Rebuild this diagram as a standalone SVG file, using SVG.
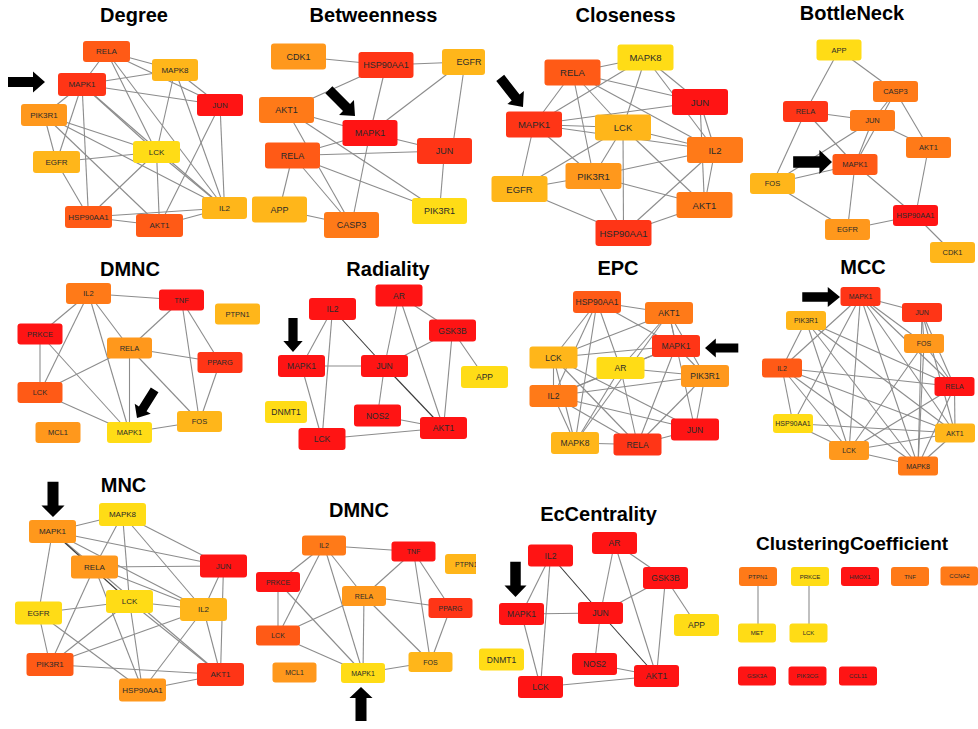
<svg xmlns="http://www.w3.org/2000/svg" xmlns:xlink="http://www.w3.org/1999/xlink" width="978" height="729" viewBox="0 0 978 729">
<style>
.ttl{font-family:"Liberation Sans",Arial,sans-serif;font-weight:bold;font-size:20px;text-anchor:middle;fill:#000}
.nodes text{font-family:"Liberation Sans",Arial,sans-serif;text-anchor:middle;dominant-baseline:central;fill:#2a2a2a}
.nodes rect{rx:3px;ry:3px}
.edges line{stroke:#8c8c8c;stroke-width:1.1}
.edges line.dk{stroke:#3a3a3a}
.r1{fill:#ff1414}.r2{fill:#ff3516}.r3{fill:#ff5a16}.r4{fill:#ff7a18}.r5{fill:#ff981c}.r6{fill:#ffb61a}.r7{fill:#ffdc16}
</style>
<defs>
<polygon id="arw" points="-37,-5 -12,-5 -12,-10.5 0,0 -12,10.5 -12,5 -37,5" fill="#000"/>
<clipPath id="clipP"><rect x="440" y="540" width="36" height="40"/></clipPath>
</defs>
<rect width="978" height="729" fill="#fff"/>

<g id="titles">
<text class="ttl" x="134" y="22">Degree</text>
<text class="ttl" x="373.5" y="22">Betweenness</text>
<text class="ttl" x="625.5" y="22">Closeness</text>
<text class="ttl" x="852" y="20">BottleNeck</text>
<text class="ttl" x="130" y="276">DMNC</text>
<text class="ttl" x="388" y="276">Radiality</text>
<text class="ttl" x="618" y="275">EPC</text>
<text class="ttl" x="863" y="274">MCC</text>
<text class="ttl" x="123.5" y="492">MNC</text>
<text class="ttl" x="359" y="517">DMNC</text>
<text class="ttl" x="598.5" y="521">EcCentrality</text>
<text class="ttl" x="852" y="550" style="font-size:19px">ClusteringCoefficient</text>
</g>

<g id="connectors" class="edges">
<!-- Degree -->
<line x1="106.5" y1="51.5" x2="82" y2="84.5"/><line x1="106.5" y1="51.5" x2="175" y2="70"/><line x1="106.5" y1="51.5" x2="220" y2="105"/><line x1="106.5" y1="51.5" x2="156.5" y2="152"/><line x1="106.5" y1="51.5" x2="224.5" y2="208"/>
<line x1="175" y1="70" x2="82" y2="84.5"/><line x1="175" y1="70" x2="220" y2="105"/><line x1="175" y1="70" x2="156.5" y2="152"/><line x1="175" y1="70" x2="224.5" y2="208"/>
<line x1="82" y1="84.5" x2="220" y2="105"/><line x1="82" y1="84.5" x2="44" y2="115"/><line x1="82" y1="84.5" x2="56.5" y2="162"/><line x1="82" y1="84.5" x2="88.5" y2="217"/><line x1="82" y1="84.5" x2="156.5" y2="152"/><line x1="82" y1="84.5" x2="224.5" y2="208"/>
<line x1="44" y1="115" x2="56.5" y2="162"/><line x1="44" y1="115" x2="156.5" y2="152"/><line x1="44" y1="115" x2="224.5" y2="208"/><line x1="44" y1="115" x2="159.5" y2="225.5"/>
<line x1="220" y1="105" x2="159.5" y2="225.5"/><line x1="220" y1="105" x2="224.5" y2="208"/>
<line x1="56.5" y1="162" x2="156.5" y2="152"/><line x1="56.5" y1="162" x2="88.5" y2="217"/>
<line x1="156.5" y1="152" x2="88.5" y2="217"/><line x1="156.5" y1="152" x2="159.5" y2="225.5"/><line x1="156.5" y1="152" x2="224.5" y2="208"/>
<line x1="88.5" y1="217" x2="159.5" y2="225.5"/><line x1="88.5" y1="217" x2="224.5" y2="208"/><line x1="159.5" y1="225.5" x2="224.5" y2="208"/>
<!-- Betweenness -->
<line x1="298.5" y1="56.5" x2="386" y2="65"/><line x1="386" y1="65" x2="463" y2="62"/><line x1="386" y1="65" x2="286.5" y2="110"/><line x1="386" y1="65" x2="370" y2="133"/>
<line x1="463" y1="62" x2="370" y2="133"/><line x1="465" y1="62" x2="452" y2="151"/>
<line x1="286.5" y1="110" x2="370" y2="133"/><line x1="286.5" y1="110" x2="351.5" y2="225"/><line x1="286.5" y1="110" x2="439.5" y2="211"/>
<line x1="370" y1="133" x2="292.5" y2="155.5"/><line x1="370" y1="133" x2="444.5" y2="151"/><line x1="370" y1="133" x2="351.5" y2="225"/>
<line x1="292.5" y1="155.5" x2="444.5" y2="151"/><line x1="292.5" y1="155.5" x2="439.5" y2="211"/><line x1="292.5" y1="155.5" x2="279.5" y2="209.5"/><line x1="292.5" y1="155.5" x2="351.5" y2="225"/>
<line x1="279.5" y1="209.5" x2="351.5" y2="225"/><line x1="444.5" y1="151" x2="439.5" y2="211"/>
<!-- Closeness -->
<line x1="645.5" y1="57.5" x2="572.5" y2="72.5"/><line x1="645.5" y1="57.5" x2="700" y2="102"/><line x1="645.5" y1="57.5" x2="623" y2="127.5"/><line x1="645.5" y1="57.5" x2="715" y2="150"/><line x1="645.5" y1="57.5" x2="534" y2="124.5"/>
<line x1="572.5" y1="72.5" x2="534" y2="124.5"/><line x1="572.5" y1="72.5" x2="700" y2="102"/><line x1="572.5" y1="72.5" x2="623" y2="127.5"/><line x1="572.5" y1="72.5" x2="593.5" y2="176"/><line x1="572.5" y1="72.5" x2="715" y2="150"/>
<line x1="700" y1="102" x2="534" y2="124.5"/><line x1="700" y1="102" x2="715" y2="150"/><line x1="700" y1="102" x2="704.5" y2="205"/>
<line x1="534" y1="124.5" x2="623" y2="127.5"/><line x1="534" y1="124.5" x2="715" y2="150"/><line x1="534" y1="124.5" x2="593.5" y2="176"/><line x1="534" y1="124.5" x2="519.5" y2="189"/>
<line x1="623" y1="127.5" x2="519.5" y2="189"/><line x1="623" y1="127.5" x2="593.5" y2="176"/><line x1="623" y1="127.5" x2="623.5" y2="233"/><line x1="623" y1="127.5" x2="704.5" y2="205"/><line x1="623" y1="127.5" x2="715" y2="150"/>
<line x1="715" y1="150" x2="593.5" y2="176"/><line x1="715" y1="150" x2="623.5" y2="233"/><line x1="715" y1="150" x2="704.5" y2="205"/>
<line x1="593.5" y1="176" x2="519.5" y2="189"/><line x1="593.5" y1="176" x2="623.5" y2="233"/><line x1="593.5" y1="176" x2="704.5" y2="205"/>
<line x1="519.5" y1="189" x2="623.5" y2="233"/><line x1="704.5" y1="205" x2="623.5" y2="233"/>
<!-- BottleNeck -->
<line x1="839" y1="50" x2="805.5" y2="111.5"/><line x1="839" y1="50" x2="895.5" y2="91.5"/>
<line x1="895.5" y1="91.5" x2="872.5" y2="120.5"/><line x1="895.5" y1="91.5" x2="928.5" y2="147.5"/><line x1="895.5" y1="91.5" x2="855" y2="164.5"/>
<line x1="805.5" y1="111.5" x2="872.5" y2="120.5"/><line x1="805.5" y1="111.5" x2="855" y2="164.5"/><line x1="805.5" y1="111.5" x2="772.5" y2="183.5"/>
<line x1="872.5" y1="120.5" x2="928.5" y2="147.5"/><line x1="872.5" y1="120.5" x2="772.5" y2="183.5"/><line x1="872.5" y1="120.5" x2="855" y2="164.5"/>
<line x1="855" y1="164.5" x2="772.5" y2="183.5"/><line x1="855" y1="164.5" x2="847.5" y2="229.5"/><line x1="855" y1="164.5" x2="915.5" y2="215.5"/>
<line x1="928.5" y1="147.5" x2="915.5" y2="215.5"/><line x1="772.5" y1="183.5" x2="847.5" y2="229.5"/><line x1="847.5" y1="229.5" x2="915.5" y2="215.5"/><line x1="915.5" y1="215.5" x2="952.5" y2="252.5"/>
<!-- DMNC -->
<line x1="88.5" y1="293.5" x2="181.5" y2="300"/><line x1="88.5" y1="293.5" x2="40" y2="334"/><line x1="88.5" y1="293.5" x2="40" y2="392.5"/><line x1="88.5" y1="293.5" x2="129.5" y2="348"/><line x1="88.5" y1="293.5" x2="129.5" y2="432.5"/>
<line x1="181.5" y1="300" x2="129.5" y2="348"/><line x1="181.5" y1="300" x2="220" y2="362.5"/><line x1="181.5" y1="300" x2="199.5" y2="421.5"/>
<line x1="40" y1="334" x2="40" y2="392.5"/><line x1="40" y1="334" x2="129.5" y2="432.5"/>
<line x1="129.5" y1="348" x2="40" y2="392.5"/><line x1="129.5" y1="348" x2="220" y2="362.5"/><line x1="129.5" y1="348" x2="129.5" y2="432.5"/><line x1="129.5" y1="348" x2="199.5" y2="421.5"/>
<line x1="220" y1="362.5" x2="199.5" y2="421.5"/><line x1="40" y1="392.5" x2="129.5" y2="432.5"/><line x1="199.5" y1="421.5" x2="129.5" y2="432.5"/>
<!-- Radiality -->
<line x1="399" y1="295.5" x2="384.5" y2="366"/><line x1="399" y1="295.5" x2="443.5" y2="428"/><line x1="399" y1="295.5" x2="452.5" y2="330.5"/>
<line x1="332.5" y1="309" x2="301.5" y2="366"/><line x1="332.5" y1="309" x2="322" y2="439"/><line class="dk" x1="332.5" y1="309" x2="384.5" y2="366"/>
<line x1="452.5" y1="330.5" x2="384.5" y2="366"/><line x1="452.5" y1="330.5" x2="443.5" y2="428"/><line x1="452.5" y1="330.5" x2="484.5" y2="377"/>
<line x1="301.5" y1="366" x2="384.5" y2="366"/><line x1="301.5" y1="366" x2="322" y2="439"/>
<line x1="384.5" y1="366" x2="377.5" y2="415.5"/><line class="dk" x1="384.5" y1="366" x2="443.5" y2="428"/>
<line x1="377.5" y1="415.5" x2="443.5" y2="428"/><line x1="322" y1="439" x2="443.5" y2="428"/>
<!-- EPC -->
<line x1="597" y1="302" x2="669" y2="313"/><line x1="597" y1="302" x2="553.5" y2="357.5"/><line x1="597" y1="302" x2="553.5" y2="396"/><line x1="597" y1="302" x2="620.5" y2="368"/><line x1="597" y1="302" x2="676" y2="346"/><line x1="597" y1="302" x2="575" y2="443"/>
<line x1="669" y1="313" x2="676" y2="346"/><line x1="669" y1="313" x2="553.5" y2="357.5"/><line x1="669" y1="313" x2="620.5" y2="368"/><line x1="669" y1="313" x2="705" y2="376"/><line x1="669" y1="313" x2="695" y2="429.5"/><line x1="669" y1="313" x2="575" y2="443"/>
<line x1="676" y1="346" x2="553.5" y2="357.5"/><line x1="676" y1="346" x2="620.5" y2="368"/><line x1="676" y1="346" x2="705" y2="376"/><line x1="676" y1="346" x2="637.5" y2="444.5"/><line x1="676" y1="346" x2="553.5" y2="396"/>
<line x1="553.5" y1="357.5" x2="553.5" y2="396"/><line x1="553.5" y1="357.5" x2="575" y2="443"/><line x1="553.5" y1="357.5" x2="637.5" y2="444.5"/><line x1="553.5" y1="357.5" x2="695" y2="429.5"/>
<line x1="620.5" y1="368" x2="705" y2="376"/><line x1="620.5" y1="368" x2="553.5" y2="396"/><line x1="620.5" y1="368" x2="575" y2="443"/><line x1="620.5" y1="368" x2="637.5" y2="444.5"/>
<line x1="705" y1="376" x2="553.5" y2="396"/><line x1="705" y1="376" x2="637.5" y2="444.5"/><line x1="705" y1="376" x2="695" y2="429.5"/>
<line x1="553.5" y1="396" x2="575" y2="443"/><line x1="553.5" y1="396" x2="637.5" y2="444.5"/><line x1="553.5" y1="396" x2="695" y2="429.5"/>
<line x1="575" y1="443" x2="637.5" y2="444.5"/><line x1="637.5" y1="444.5" x2="695" y2="429.5"/>
<!-- MCC -->
<line x1="860.5" y1="296.5" x2="922" y2="312.5"/><line x1="860.5" y1="296.5" x2="924" y2="343.5"/><line x1="860.5" y1="296.5" x2="954.5" y2="386.5"/><line x1="860.5" y1="296.5" x2="955" y2="433"/><line x1="860.5" y1="296.5" x2="782" y2="368"/><line x1="860.5" y1="296.5" x2="793" y2="423.5"/><line x1="860.5" y1="296.5" x2="849" y2="450.5"/><line x1="860.5" y1="296.5" x2="918" y2="466"/>
<line x1="922" y1="312.5" x2="924" y2="343.5"/><line x1="922" y1="312.5" x2="954.5" y2="386.5"/><line x1="922" y1="312.5" x2="918" y2="466"/><line x1="922" y1="312.5" x2="955" y2="433"/>
<line x1="806" y1="320.5" x2="782" y2="368"/><line x1="806" y1="320.5" x2="954.5" y2="386.5"/><line x1="806" y1="320.5" x2="849" y2="450.5"/><line x1="806" y1="320.5" x2="918" y2="466"/><line x1="806" y1="320.5" x2="955" y2="433"/>
<line x1="924" y1="343.5" x2="954.5" y2="386.5"/><line x1="924" y1="343.5" x2="918" y2="466"/><line x1="924" y1="343.5" x2="849" y2="450.5"/>
<line x1="782" y1="368" x2="954.5" y2="386.5"/><line x1="782" y1="368" x2="955" y2="433"/><line x1="782" y1="368" x2="849" y2="450.5"/><line x1="782" y1="368" x2="918" y2="466"/><line x1="782" y1="368" x2="793" y2="423.5"/>
<line x1="954.5" y1="386.5" x2="849" y2="450.5"/><line x1="954.5" y1="386.5" x2="955" y2="433"/><line x1="954.5" y1="386.5" x2="918" y2="466"/>
<line x1="793" y1="423.5" x2="955" y2="433"/><line x1="793" y1="423.5" x2="849" y2="450.5"/><line x1="849" y1="450.5" x2="955" y2="433"/><line x1="849" y1="450.5" x2="918" y2="466"/><line x1="955" y1="433" x2="918" y2="466"/>
<!-- MNC -->
<line x1="122.5" y1="514.5" x2="52.5" y2="531.5"/><line x1="122.5" y1="514.5" x2="94.5" y2="567"/><line x1="122.5" y1="514.5" x2="129.5" y2="601.5"/><line x1="122.5" y1="514.5" x2="203.5" y2="609.5"/><line x1="122.5" y1="514.5" x2="223.5" y2="566"/>
<line x1="52.5" y1="531.5" x2="223.5" y2="566"/><line x1="52.5" y1="531.5" x2="94.5" y2="567"/><line class="dk" x1="52.5" y1="531.5" x2="129.5" y2="601.5"/><line x1="52.5" y1="531.5" x2="203.5" y2="609.5"/><line x1="52.5" y1="531.5" x2="38.5" y2="613"/>
<line x1="94.5" y1="567" x2="223.5" y2="566"/><line x1="94.5" y1="567" x2="203.5" y2="609.5"/><line x1="94.5" y1="567" x2="220.5" y2="674.5"/><line x1="94.5" y1="567" x2="50" y2="664.5"/><line x1="94.5" y1="567" x2="142.5" y2="690"/>
<line x1="129.5" y1="601.5" x2="38.5" y2="613"/><line x1="129.5" y1="601.5" x2="203.5" y2="609.5"/><line x1="129.5" y1="601.5" x2="50" y2="664.5"/><line x1="129.5" y1="601.5" x2="142.5" y2="690"/><line x1="129.5" y1="601.5" x2="220.5" y2="674.5"/>
<line x1="203.5" y1="609.5" x2="223.5" y2="566"/><line x1="203.5" y1="609.5" x2="220.5" y2="674.5"/><line x1="203.5" y1="609.5" x2="50" y2="664.5"/><line x1="203.5" y1="609.5" x2="142.5" y2="690"/>
<line x1="223.5" y1="566" x2="220.5" y2="674.5"/><line x1="38.5" y1="613" x2="50" y2="664.5"/><line x1="38.5" y1="613" x2="142.5" y2="690"/><line x1="50" y1="664.5" x2="220.5" y2="674.5"/><line x1="220.5" y1="674.5" x2="142.5" y2="690"/>
<!-- DMNC (2) -->
<line x1="324" y1="545.5" x2="413.5" y2="551.5"/><line x1="324" y1="545.5" x2="278" y2="582"/><line x1="324" y1="545.5" x2="278" y2="635.5"/><line x1="324" y1="545.5" x2="364" y2="596"/><line x1="324" y1="545.5" x2="363" y2="673"/>
<line x1="413.5" y1="551.5" x2="364" y2="596"/><line x1="413.5" y1="551.5" x2="450.5" y2="608"/><line x1="413.5" y1="551.5" x2="430.5" y2="662"/>
<line x1="278" y1="582" x2="278" y2="635.5"/><line x1="278" y1="582" x2="363" y2="673"/>
<line x1="364" y1="596" x2="278" y2="635.5"/><line x1="364" y1="596" x2="450.5" y2="608"/><line x1="364" y1="596" x2="363" y2="673"/><line x1="364" y1="596" x2="430.5" y2="662"/>
<line x1="450.5" y1="608" x2="430.5" y2="662"/><line x1="278" y1="635.5" x2="363" y2="673"/><line x1="430.5" y1="662" x2="363" y2="673"/>
<!-- EcCentrality -->
<line x1="614.5" y1="543" x2="600.5" y2="613"/><line x1="614.5" y1="543" x2="656.5" y2="676"/><line x1="614.5" y1="543" x2="665.5" y2="578"/>
<line x1="550.5" y1="555.5" x2="521.5" y2="614"/><line x1="550.5" y1="555.5" x2="540.5" y2="687"/><line class="dk" x1="550.5" y1="555.5" x2="600.5" y2="613"/>
<line x1="665.5" y1="578" x2="600.5" y2="613"/><line x1="665.5" y1="578" x2="656.5" y2="676"/><line x1="665.5" y1="578" x2="696.5" y2="625"/>
<line x1="521.5" y1="614" x2="600.5" y2="613"/><line x1="521.5" y1="614" x2="540.5" y2="687"/>
<line x1="600.5" y1="613" x2="594.5" y2="664"/><line class="dk" x1="600.5" y1="613" x2="656.5" y2="676"/>
<line x1="594.5" y1="664" x2="656.5" y2="676"/><line x1="540.5" y1="687" x2="656.5" y2="676"/>
<!-- ClusteringCoefficient -->
<line x1="758" y1="586" x2="758" y2="624"/><line x1="809" y1="586" x2="809" y2="624"/>
</g>

<g id="panel-degree" class="nodes" font-size="8">
<g id="deg-RELA"><rect class="r3" x="83" y="41" width="47" height="21"/><text x="106.5" y="51.5">RELA</text></g>
<g id="deg-MAPK8"><rect class="r6" x="152" y="59" width="46" height="22"/><text x="175" y="70">MAPK8</text></g>
<g id="deg-MAPK1"><rect class="r2" x="58" y="73" width="48" height="23"/><text x="82" y="84.5">MAPK1</text></g>
<g id="deg-JUN"><rect class="r1" x="197" y="94" width="46" height="22"/><text x="220" y="105">JUN</text></g>
<g id="deg-PIK3R1"><rect class="r5" x="21" y="104" width="46" height="22"/><text x="44" y="115">PIK3R1</text></g>
<g id="deg-LCK"><rect class="r7" x="133" y="141" width="47" height="22"/><text x="156.5" y="152">LCK</text></g>
<g id="deg-EGFR"><rect class="r6" x="33" y="151" width="47" height="22"/><text x="56.5" y="162">EGFR</text></g>
<g id="deg-IL2"><rect class="r6" x="202" y="197" width="45" height="22"/><text x="224.5" y="208">IL2</text></g>
<g id="deg-HSP90AA1"><rect class="r3" x="65" y="206" width="47" height="22"/><text x="88.5" y="217">HSP90AA1</text></g>
<g id="deg-AKT1"><rect class="r3" x="136" y="214" width="47" height="23"/><text x="159.5" y="225.5">AKT1</text></g>
</g>

<g id="panel-betweenness" class="nodes" font-size="9">
<g id="bet-CDK1"><rect class="r5" x="271" y="43.5" width="55" height="26"/><text x="298.5" y="56.5">CDK1</text></g>
<g id="bet-HSP90AA1"><rect class="r2" x="358.5" y="52" width="55" height="26"/><text x="386" y="65">HSP90AA1</text></g>
<g id="bet-EGFR"><rect class="r6" x="442" y="49" width="43" height="26"/><text x="469" y="62">EGFR</text></g>
<g id="bet-AKT1"><rect class="r4" x="259" y="97" width="55" height="26"/><text x="286.5" y="110">AKT1</text></g>
<g id="bet-MAPK1"><rect class="r1" x="342.5" y="120" width="55" height="26"/><text x="370" y="133">MAPK1</text></g>
<g id="bet-RELA"><rect class="r3" x="265" y="142.5" width="55" height="26"/><text x="292.5" y="155.5">RELA</text></g>
<g id="bet-JUN"><rect class="r2" x="417" y="138" width="55" height="26"/><text x="444.5" y="151">JUN</text></g>
<g id="bet-APP"><rect class="r6" x="252" y="196.5" width="55" height="26"/><text x="279.5" y="209.5">APP</text></g>
<g id="bet-CASP3"><rect class="r4" x="324" y="212" width="55" height="26"/><text x="351.5" y="225">CASP3</text></g>
<g id="bet-PIK3R1"><rect class="r7" x="412" y="198" width="55" height="26"/><text x="439.5" y="211">PIK3R1</text></g>
</g>

<g id="panel-closeness" class="nodes" font-size="9.5">
<g id="clo-MAPK8"><rect class="r7" x="617.5" y="44.5" width="56" height="26"/><text x="645.5" y="57.5">MAPK8</text></g>
<g id="clo-RELA"><rect class="r3" x="544.5" y="59.5" width="56" height="26"/><text x="572.5" y="72.5">RELA</text></g>
<g id="clo-JUN"><rect class="r1" x="672" y="89" width="56" height="26"/><text x="700" y="102">JUN</text></g>
<g id="clo-MAPK1"><rect class="r2" x="506" y="111.5" width="56" height="26"/><text x="534" y="124.5">MAPK1</text></g>
<g id="clo-LCK"><rect class="r6" x="595" y="114.5" width="56" height="26"/><text x="623" y="127.5">LCK</text></g>
<g id="clo-IL2"><rect class="r4" x="687" y="137" width="56" height="26"/><text x="715" y="150">IL2</text></g>
<g id="clo-PIK3R1"><rect class="r5" x="565.5" y="163" width="56" height="26"/><text x="593.5" y="176">PIK3R1</text></g>
<g id="clo-EGFR"><rect class="r6" x="491.5" y="176" width="56" height="26"/><text x="519.5" y="189">EGFR</text></g>
<g id="clo-AKT1"><rect class="r4" x="676.5" y="192" width="56" height="26"/><text x="704.5" y="205">AKT1</text></g>
<g id="clo-HSP90AA1"><rect class="r2" x="595.5" y="220" width="56" height="26"/><text x="623.5" y="233">HSP90AA1</text></g>
</g>

<g id="panel-bottleneck" class="nodes" font-size="7.5">
<g id="bot-APP"><rect class="r7" x="816.5" y="39.5" width="45" height="21"/><text x="839" y="50">APP</text></g>
<g id="bot-CASP3"><rect class="r4" x="873" y="81" width="45" height="21"/><text x="895.5" y="91.5">CASP3</text></g>
<g id="bot-RELA"><rect class="r2" x="783" y="101" width="45" height="21"/><text x="805.5" y="111.5">RELA</text></g>
<g id="bot-JUN"><rect class="r4" x="850" y="110" width="45" height="21"/><text x="872.5" y="120.5">JUN</text></g>
<g id="bot-AKT1"><rect class="r4" x="906" y="137" width="45" height="21"/><text x="928.5" y="147.5">AKT1</text></g>
<g id="bot-MAPK1"><rect class="r3" x="832.5" y="154" width="45" height="21"/><text x="855" y="164.5">MAPK1</text></g>
<g id="bot-FOS"><rect class="r6" x="750" y="173" width="45" height="21"/><text x="772.5" y="183.5">FOS</text></g>
<g id="bot-HSP90AA1"><rect class="r1" x="893" y="205" width="45" height="21"/><text x="915.5" y="215.5">HSP90AA1</text></g>
<g id="bot-EGFR"><rect class="r5" x="825" y="219" width="45" height="21"/><text x="847.5" y="229.5">EGFR</text></g>
<g id="bot-CDK1"><rect class="r6" x="930" y="242" width="45" height="21"/><text x="952.5" y="252.5">CDK1</text></g>
</g>

<g id="panel-dmnc" class="nodes" font-size="7.5">
<g id="dm1-IL2"><rect class="r4" x="66" y="283" width="45" height="21"/><text x="88.5" y="293.5">IL2</text></g>
<g id="dm1-TNF"><rect class="r1" x="159" y="289.5" width="45" height="21"/><text x="181.5" y="300">TNF</text></g>
<g id="dm1-PTPN1"><rect class="r6" x="215" y="303.5" width="45" height="21"/><text x="237.5" y="314">PTPN1</text></g>
<g id="dm1-PRKCE"><rect class="r1" x="17.5" y="323.5" width="45" height="21"/><text x="40" y="334">PRKCE</text></g>
<g id="dm1-RELA"><rect class="r5" x="107" y="337.5" width="45" height="21"/><text x="129.5" y="348">RELA</text></g>
<g id="dm1-PPARG"><rect class="r2" x="197.5" y="352" width="45" height="21"/><text x="220" y="362.5">PPARG</text></g>
<g id="dm1-LCK"><rect class="r3" x="17.5" y="382" width="45" height="21"/><text x="40" y="392.5">LCK</text></g>
<g id="dm1-FOS"><rect class="r6" x="177" y="411" width="45" height="21"/><text x="199.5" y="421.5">FOS</text></g>
<g id="dm1-MCL1"><rect class="r5" x="35.5" y="422" width="45" height="21"/><text x="58" y="432.5">MCL1</text></g>
<g id="dm1-MAPK1"><rect class="r7" x="107" y="422" width="45" height="21"/><text x="129.5" y="432.5">MAPK1</text></g>
</g>

<g id="panel-radiality" class="nodes" font-size="8.5">
<g id="rad-AR"><rect class="r1" x="375.5" y="284.5" width="47" height="22"/><text x="399" y="295.5">AR</text></g>
<g id="rad-IL2"><rect class="r1" x="309" y="298" width="47" height="22"/><text x="332.5" y="309">IL2</text></g>
<g id="rad-GSK3B"><rect class="r1" x="429" y="319.5" width="47" height="22"/><text x="452.5" y="330.5">GSK3B</text></g>
<g id="rad-MAPK1"><rect class="r1" x="278" y="355" width="47" height="22"/><text x="301.5" y="366">MAPK1</text></g>
<g id="rad-JUN"><rect class="r1" x="361" y="355" width="47" height="22"/><text x="384.5" y="366">JUN</text></g>
<g id="rad-APP"><rect class="r7" x="461" y="366" width="47" height="22"/><text x="484.5" y="377">APP</text></g>
<g id="rad-DNMT1"><rect class="r7" x="265" y="401" width="42" height="22"/><text x="286" y="412">DNMT1</text></g>
<g id="rad-NOS2"><rect class="r1" x="354" y="404.5" width="47" height="22"/><text x="377.5" y="415.5">NOS2</text></g>
<g id="rad-AKT1"><rect class="r1" x="420" y="417" width="47" height="22"/><text x="443.5" y="428">AKT1</text></g>
<g id="rad-LCK"><rect class="r1" x="298.5" y="428" width="47" height="22"/><text x="322" y="439">LCK</text></g>
</g>

<g id="panel-epc" class="nodes" font-size="8.5">
<g id="epc-HSP90AA1"><rect class="r3" x="573" y="291" width="48" height="22"/><text x="597" y="302">HSP90AA1</text></g>
<g id="epc-AKT1"><rect class="r4" x="645" y="302" width="48" height="22"/><text x="669" y="313">AKT1</text></g>
<g id="epc-MAPK1"><rect class="r2" x="652" y="335" width="48" height="22"/><text x="676" y="346">MAPK1</text></g>
<g id="epc-LCK"><rect class="r6" x="529.5" y="346.5" width="48" height="22"/><text x="553.5" y="357.5">LCK</text></g>
<g id="epc-AR"><rect class="r7" x="596.5" y="357" width="48" height="22"/><text x="620.5" y="368">AR</text></g>
<g id="epc-PIK3R1"><rect class="r5" x="681" y="365" width="48" height="22"/><text x="705" y="376">PIK3R1</text></g>
<g id="epc-IL2"><rect class="r4" x="529.5" y="385" width="48" height="22"/><text x="553.5" y="396">IL2</text></g>
<g id="epc-JUN"><rect class="r1" x="671" y="418.5" width="48" height="22"/><text x="695" y="429.5">JUN</text></g>
<g id="epc-MAPK8"><rect class="r6" x="551" y="432" width="48" height="22"/><text x="575" y="443">MAPK8</text></g>
<g id="epc-RELA"><rect class="r2" x="613.5" y="433.5" width="48" height="22"/><text x="637.5" y="444.5">RELA</text></g>
</g>

<g id="panel-mcc" class="nodes" font-size="7">
<g id="mcc-MAPK1"><rect class="r2" x="840.5" y="287" width="40" height="19"/><text x="860.5" y="296.5">MAPK1</text></g>
<g id="mcc-JUN"><rect class="r2" x="902" y="303" width="40" height="19"/><text x="922" y="312.5">JUN</text></g>
<g id="mcc-PIK3R1"><rect class="r6" x="786" y="311" width="40" height="19"/><text x="806" y="320.5">PIK3R1</text></g>
<g id="mcc-FOS"><rect class="r5" x="904" y="334" width="40" height="19"/><text x="924" y="343.5">FOS</text></g>
<g id="mcc-IL2"><rect class="r3" x="762" y="358.5" width="40" height="19"/><text x="782" y="368">IL2</text></g>
<g id="mcc-RELA"><rect class="r1" x="934.5" y="377" width="40" height="19"/><text x="954.5" y="386.5">RELA</text></g>
<g id="mcc-HSP90AA1"><rect class="r7" x="773" y="414" width="40" height="19"/><text x="793" y="423.5">HSP90AA1</text></g>
<g id="mcc-AKT1"><rect class="r6" x="935" y="423.5" width="40" height="19"/><text x="955" y="433">AKT1</text></g>
<g id="mcc-LCK"><rect class="r5" x="829" y="441" width="40" height="19"/><text x="849" y="450.5">LCK</text></g>
<g id="mcc-MAPK8"><rect class="r4" x="898" y="456.5" width="40" height="19"/><text x="918" y="466">MAPK8</text></g>
</g>

<g id="panel-mnc" class="nodes" font-size="8">
<g id="mnc-MAPK8"><rect class="r7" x="99" y="503" width="47" height="23"/><text x="122.5" y="514.5">MAPK8</text></g>
<g id="mnc-MAPK1"><rect class="r5" x="29" y="520" width="47" height="23"/><text x="52.5" y="531.5">MAPK1</text></g>
<g id="mnc-JUN"><rect class="r1" x="200" y="554.5" width="47" height="23"/><text x="223.5" y="566">JUN</text></g>
<g id="mnc-RELA"><rect class="r5" x="71" y="555.5" width="47" height="23"/><text x="94.5" y="567">RELA</text></g>
<g id="mnc-LCK"><rect class="r7" x="106" y="590" width="47" height="23"/><text x="129.5" y="601.5">LCK</text></g>
<g id="mnc-IL2"><rect class="r6" x="180" y="598" width="47" height="23"/><text x="203.5" y="609.5">IL2</text></g>
<g id="mnc-EGFR"><rect class="r7" x="15" y="601.5" width="47" height="23"/><text x="38.5" y="613">EGFR</text></g>
<g id="mnc-PIK3R1"><rect class="r3" x="26.5" y="653" width="47" height="23"/><text x="50" y="664.5">PIK3R1</text></g>
<g id="mnc-AKT1"><rect class="r2" x="197" y="663" width="47" height="23"/><text x="220.5" y="674.5">AKT1</text></g>
<g id="mnc-HSP90AA1"><rect class="r5" x="119" y="678.5" width="47" height="23"/><text x="142.5" y="690">HSP90AA1</text></g>
</g>

<g id="panel-dmnc2" class="nodes" font-size="7">
<g id="dm2-IL2"><rect class="r4" x="302" y="535.5" width="44" height="20"/><text x="324" y="545.5">IL2</text></g>
<g id="dm2-TNF"><rect class="r1" x="391.5" y="541.5" width="44" height="20"/><text x="413.5" y="551.5">TNF</text></g>
<g id="dm2-PTPN1" clip-path="url(#clipP)"><rect class="r6" x="445" y="554" width="44" height="20"/><text x="455" y="564" style="text-anchor:start">PTPN1</text></g>
<g id="dm2-PRKCE"><rect class="r1" x="256" y="572" width="44" height="20"/><text x="278" y="582">PRKCE</text></g>
<g id="dm2-RELA"><rect class="r5" x="342" y="586" width="44" height="20"/><text x="364" y="596">RELA</text></g>
<g id="dm2-PPARG"><rect class="r2" x="428.5" y="598" width="44" height="20"/><text x="450.5" y="608">PPARG</text></g>
<g id="dm2-LCK"><rect class="r3" x="256" y="625.5" width="44" height="20"/><text x="278" y="635.5">LCK</text></g>
<g id="dm2-FOS"><rect class="r6" x="408.5" y="652" width="44" height="20"/><text x="430.5" y="662">FOS</text></g>
<g id="dm2-MCL1"><rect class="r5" x="272.5" y="662.5" width="44" height="20"/><text x="294.5" y="672.5">MCL1</text></g>
<g id="dm2-MAPK1"><rect class="r7" x="341" y="663" width="44" height="20"/><text x="363" y="673">MAPK1</text></g>
</g>

<g id="panel-eccentrality" class="nodes" font-size="8.5">
<g id="ecc-AR"><rect class="r1" x="592" y="532" width="45" height="22"/><text x="614.5" y="543">AR</text></g>
<g id="ecc-IL2"><rect class="r1" x="528" y="544.5" width="45" height="22"/><text x="550.5" y="555.5">IL2</text></g>
<g id="ecc-GSK3B"><rect class="r1" x="643" y="567" width="45" height="22"/><text x="665.5" y="578">GSK3B</text></g>
<g id="ecc-MAPK1"><rect class="r1" x="499" y="603" width="45" height="22"/><text x="521.5" y="614">MAPK1</text></g>
<g id="ecc-JUN"><rect class="r1" x="578" y="602" width="45" height="22"/><text x="600.5" y="613">JUN</text></g>
<g id="ecc-APP"><rect class="r7" x="674" y="614" width="45" height="22"/><text x="696.5" y="625">APP</text></g>
<g id="ecc-DNMT1"><rect class="r7" x="479" y="648.5" width="45" height="22"/><text x="501.5" y="659.5">DNMT1</text></g>
<g id="ecc-NOS2"><rect class="r1" x="572" y="653" width="45" height="22"/><text x="594.5" y="664">NOS2</text></g>
<g id="ecc-AKT1"><rect class="r1" x="634" y="665" width="45" height="22"/><text x="656.5" y="676">AKT1</text></g>
<g id="ecc-LCK"><rect class="r1" x="518" y="676" width="45" height="22"/><text x="540.5" y="687">LCK</text></g>
</g>

<g id="panel-clustering" class="nodes" font-size="6">
<g id="cc-PTPN1"><rect class="r4" x="739" y="567" width="38" height="19"/><text x="758" y="576.5">PTPN1</text></g>
<g id="cc-PRKCE"><rect class="r7" x="791" y="567" width="38" height="19"/><text x="810" y="576.5">PRKCE</text></g>
<g id="cc-HMOX1"><rect class="r1" x="841" y="567" width="38" height="19"/><text x="860" y="576.5">HMOX1</text></g>
<g id="cc-TNF"><rect class="r4" x="891" y="567" width="38" height="19"/><text x="910" y="576.5">TNF</text></g>
<g id="cc-CCNA2"><rect class="r4" x="940.5" y="566.5" width="37.5" height="19"/><text x="959.5" y="576">CCNA2</text></g>
<g id="cc-MET"><rect class="r7" x="738" y="623.5" width="38" height="19"/><text x="757" y="633">MET</text></g>
<g id="cc-LCK"><rect class="r7" x="789.5" y="623.5" width="38" height="19"/><text x="808.5" y="633">LCK</text></g>
<g id="cc-GSK3A"><rect class="r1" x="738" y="666.5" width="38" height="19"/><text x="757" y="676">GSK3A</text></g>
<g id="cc-PIK3CG"><rect class="r1" x="788.5" y="666.5" width="38" height="19"/><text x="807.5" y="676">PIK3CG</text></g>
<g id="cc-CCL11"><rect class="r1" x="839" y="666.5" width="38" height="19"/><text x="858" y="676">CCL11</text></g>
</g>

<g id="arrows">
<use xlink:href="#arw" href="#arw" transform="translate(45,82)"/>
<use xlink:href="#arw" href="#arw" transform="translate(355,116) rotate(45)"/>
<use xlink:href="#arw" href="#arw" transform="translate(523,107) rotate(52)"/>
<use xlink:href="#arw" href="#arw" transform="translate(832,162) scale(1.05,1.15)"/>
<use xlink:href="#arw" href="#arw" transform="translate(137,418) rotate(122) scale(0.9)"/>
<use xlink:href="#arw" href="#arw" transform="translate(293,352) rotate(90) scale(0.92)"/>
<use xlink:href="#arw" href="#arw" transform="translate(705,348) rotate(180) scale(0.9)"/>
<use xlink:href="#arw" href="#arw" transform="translate(840,297) scale(1.02,0.95)"/>
<use xlink:href="#arw" href="#arw" transform="translate(53,517) rotate(90) scale(0.95,1.1)"/>
<use xlink:href="#arw" href="#arw" transform="translate(361,687) rotate(-90) scale(0.92,1.1)"/>
<use xlink:href="#arw" href="#arw" transform="translate(515.5,597) rotate(90) scale(0.95,1.05)"/>
</g>
</svg>
